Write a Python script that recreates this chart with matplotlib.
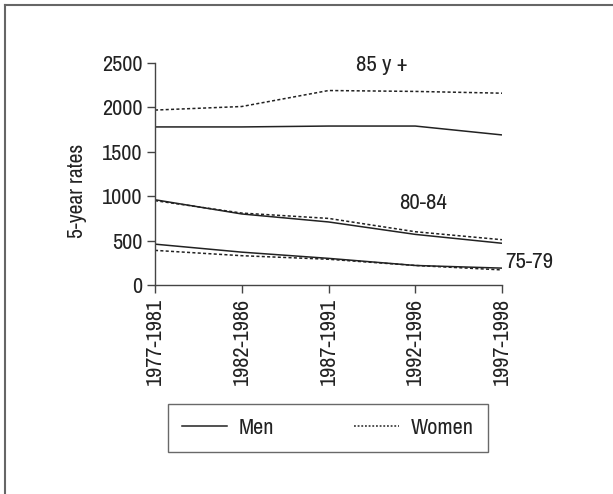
import matplotlib
matplotlib.use("Agg")
import matplotlib.pyplot as plt
from matplotlib.lines import Line2D
from matplotlib import font_manager

periods = ["1977-1981", "1982-1986", "1987-1991", "1992-1996", "1997-1998"]
men_85 = [1780, 1780, 1790, 1790, 1690]
women_85 = [1970, 2010, 2190, 2180, 2160]
men_80 = [960, 800, 710, 570, 470]
women_80 = [950, 810, 750, 600, 510]
men_75 = [460, 370, 300, 220, 190]
women_75 = [390, 330, 290, 220, 170]
yticks = [0, 500, 1000, 1500, 2000, 2500]

names = sorted({f.name for f in font_manager.fontManager.ttflist})
narrow = [n for n in names if "Narrow" in n or "Condensed" in n]
if narrow:
    fam = narrow[0]
    fs_tick, fs_lab, fs_ann, fs_leg = 16, 15.5, 16.5, 16
else:
    fam = "Liberation Sans"
    fs_tick, fs_lab, fs_ann, fs_leg = 13, 13.5, 14, 13
plt.rcParams["font.family"] = [fam, "DejaVu Sans"]

W, H = 613, 494
fig = plt.figure(figsize=(W / 100, H / 100), dpi=100)
ax = fig.add_axes([155 / W, 1 - 285 / H, (502 - 155) / W, (285 - 63) / H])

x = list(range(len(periods)))
lc = "#222222"
dash = (0, (2, 1.5))
for m, w in [(men_85, women_85), (men_80, women_80), (men_75, women_75)]:
    ax.plot(x, m, color=lc, lw=1.1, solid_capstyle="butt")
    ax.plot(x, w, color=lc, lw=1.1, linestyle=dash)

ax.set_xlim(0, 4)
ax.set_ylim(0, 2500)
ax.set_yticks(yticks)
ax.set_yticklabels([str(v) for v in yticks], fontsize=fs_tick, color="#222222")
ax.set_xticks(x)
ax.set_xticklabels(periods, rotation=90, fontsize=fs_tick, color="#222222")
ax.tick_params(direction="out", length=6, width=1, color="#444444", pad=3)
for s in ["top", "right"]:
    ax.spines[s].set_visible(False)
for s in ["left", "bottom"]:
    ax.spines[s].set_color("#444444")
    ax.spines[s].set_linewidth(1)
ax.set_ylabel("5-year rates", fontsize=fs_lab, color="#222222", va="center")
ax.yaxis.set_label_coords(-0.225, 0.423)

ax.text(2.62, 2477, "85 y +", fontsize=fs_ann, color="#222222", ha="center", va="center", clip_on=False)
ax.text(3.09, 923, "80-84", fontsize=fs_ann, color="#222222", ha="center", va="center")
ax.text(4.04, 259, "75-79", fontsize=fs_ann, color="#222222", ha="left", va="center", clip_on=False)

handles = [Line2D([], [], color=lc, lw=1.1),
           Line2D([], [], color=lc, lw=1.1, linestyle=(0, (1.2, 1.2)))]
fpx = fs_leg * 100 / 72
leg = fig.legend(handles, ["Men", "Women"], ncol=2, loc="center",
                 bbox_to_anchor=(328 / W, 1 - 428 / H),
                 fontsize=fs_leg, frameon=True, fancybox=False,
                 handlelength=45 / fpx, handletextpad=12 / fpx,
                 columnspacing=80 / fpx, borderpad=0.62, borderaxespad=0)
leg.get_frame().set_edgecolor("#444444")
leg.get_frame().set_linewidth(1)
for t in leg.get_texts():
    t.set_color("#222222")

fig.add_artist(Line2D([4.5 / W, 4.5 / W], [0, 1 - 5.5 / H], transform=fig.transFigure, color="#666666", lw=1.5))
fig.add_artist(Line2D([4.5 / W, 1], [1 - 5.5 / H, 1 - 5.5 / H], transform=fig.transFigure, color="#666666", lw=1.5))

fig.savefig("out.png", dpi=100)
